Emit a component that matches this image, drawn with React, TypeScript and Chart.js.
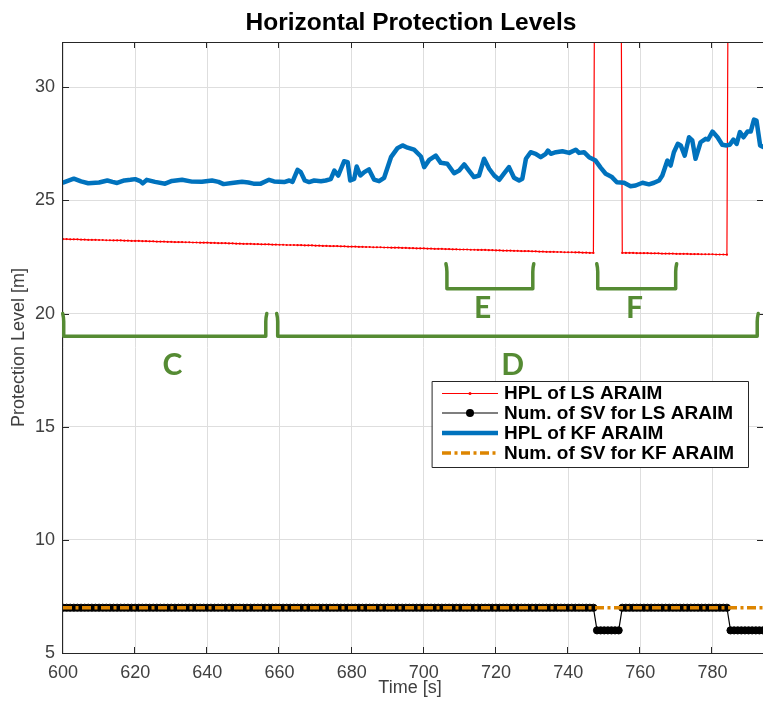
import React, { useEffect, useRef } from 'react';
import { Chart, registerables } from 'chart.js';

Chart.register(...registerables);

// ---- data ----
const T0 = 600; // first sample time [s], 1 s sampling for the LS series
const xTickValues = [600, 620, 640, 660, 680, 700, 720, 740, 760, 780];
const yTickValues = [5, 10, 15, 20, 25, 30];

// HPL of LS ARAIM (values above the axis top are off-scale spikes)
const hplLS: number[] = [
  23.29, 23.29, 23.28, 23.28, 23.28, 23.27, 23.27, 23.26, 23.26, 23.26, 23.25, 23.25,
  23.24, 23.24, 23.23, 23.23, 23.23, 23.22, 23.22, 23.21, 23.21, 23.21, 23.2, 23.2,
  23.19, 23.19, 23.18, 23.18, 23.18, 23.17, 23.17, 23.16, 23.16, 23.16, 23.15, 23.15,
  23.14, 23.14, 23.13, 23.13, 23.13, 23.12, 23.12, 23.11, 23.11, 23.11, 23.1, 23.1,
  23.09, 23.09, 23.08, 23.08, 23.08, 23.07, 23.07, 23.06, 23.06, 23.06, 23.05, 23.05,
  23.04, 23.04, 23.03, 23.03, 23.03, 23.02, 23.02, 23.01, 23.01, 23.01, 23.0, 23.0,
  22.99, 22.99, 22.98, 22.98, 22.98, 22.97, 22.97, 22.96, 22.96, 22.96, 22.95, 22.95,
  22.94, 22.94, 22.93, 22.93, 22.93, 22.92, 22.92, 22.91, 22.91, 22.91, 22.9, 22.9,
  22.89, 22.89, 22.88, 22.88, 22.88, 22.87, 22.87, 22.86, 22.86, 22.86, 22.85, 22.85,
  22.84, 22.84, 22.83, 22.83, 22.83, 22.82, 22.82, 22.81, 22.81, 22.81, 22.8, 22.8,
  22.79, 22.79, 22.78, 22.78, 22.78, 22.77, 22.77, 22.76, 22.76, 22.76, 22.75, 22.75,
  22.74, 22.74, 22.73, 22.73, 22.73, 22.72, 22.72, 22.71, 22.71, 22.71, 22.7, 22.7,
  22.69, 22.69, 22.68, 22.68,
  60, 60, 60, 60, 60, 60, 60,
  22.68, 22.68, 22.68, 22.68, 22.67, 22.67, 22.67, 22.67, 22.66, 22.66, 22.66,
  22.65, 22.65, 22.65, 22.65, 22.64, 22.64, 22.64, 22.64, 22.63, 22.63, 22.63,
  22.62, 22.62, 22.62, 22.62, 22.61, 22.61, 22.61, 22.6,
  60, 60, 60, 60, 60, 60, 60, 60, 60, 60,
];

// Number of SV for LS ARAIM
const svLS: number[] = [
  7, 7, 7, 7, 7, 7, 7, 7, 7, 7, 7, 7, 7, 7, 7, 7, 7, 7, 7, 7,
  7, 7, 7, 7, 7, 7, 7, 7, 7, 7, 7, 7, 7, 7, 7, 7, 7, 7, 7, 7,
  7, 7, 7, 7, 7, 7, 7, 7, 7, 7, 7, 7, 7, 7, 7, 7, 7, 7, 7, 7,
  7, 7, 7, 7, 7, 7, 7, 7, 7, 7, 7, 7, 7, 7, 7, 7, 7, 7, 7, 7,
  7, 7, 7, 7, 7, 7, 7, 7, 7, 7, 7, 7, 7, 7, 7, 7, 7, 7, 7, 7,
  7, 7, 7, 7, 7, 7, 7, 7, 7, 7, 7, 7, 7, 7, 7, 7, 7, 7, 7, 7,
  7, 7, 7, 7, 7, 7, 7, 7, 7, 7, 7, 7, 7, 7, 7, 7, 7, 7, 7, 7,
  7, 7, 7, 7, 7, 7, 7, 7,
  6, 6, 6, 6, 6, 6, 6,
  7, 7, 7, 7, 7, 7, 7, 7, 7, 7, 7, 7, 7, 7, 7, 7, 7, 7, 7, 7,
  7, 7, 7, 7, 7, 7, 7, 7, 7, 7,
  6, 6, 6, 6, 6, 6, 6, 6, 6, 6,
];

// HPL of KF ARAIM
const kfTimes: number[] = [
  600, 603, 605, 607, 610, 612.3, 613.7, 615, 617, 618.7, 620, 621.4, 622.1, 623.2, 625.5,
  628.3, 630.2, 633, 635.7, 638.5, 641.3, 643.1, 644.5, 646.8, 649.6, 651.4, 652.8, 654.8,
  657.1, 658.5, 661.3, 662.7, 663.6, 665, 665.9, 667, 668.2, 669.6, 671.5, 672.8, 674.2,
  675.2, 676.3, 677.9, 678.9, 679.6, 680.7, 681.4, 682.4, 683.5, 684.8, 686.2, 687.6, 689,
  690.9, 692.7, 694.1, 695.5, 697.3, 699.2, 700.1, 701.5, 703.3, 704.7, 706.5, 708.4, 709.8,
  711.2, 712.5, 713.9, 715.3, 716.7, 718.1, 719.5, 720.9, 722.2, 723.6, 725, 726.4, 727.3,
  728.3, 729.6, 731, 732.4, 733.8, 734.4, 735.2, 736.6, 738.4, 740.3, 742.1, 743, 744.4,
  745.8, 747.6, 749, 750.4, 752, 753.5, 755.5, 757.3, 758.7, 760.6, 762.4, 763.8, 765.2,
  766.1, 767.5, 768.4, 769.3, 770.4, 771.2, 772.3, 773.5, 774.4, 775.3, 776.7, 778.1, 778.8,
  780, 781.4, 782.7, 783.9, 784.8, 785.8, 786.7, 787.6, 788.6, 789.7, 790.6, 791.5, 792.2,
  793.2, 794.2,
];
const kfHpl: number[] = [
  25.79, 25.96, 25.84, 25.76, 25.79, 25.88, 25.82, 25.77, 25.88, 25.91, 25.94, 25.85, 25.75, 25.91, 25.82,
  25.74, 25.86, 25.91, 25.83, 25.82, 25.88, 25.82, 25.72, 25.77, 25.82, 25.79, 25.74, 25.74,
  25.91, 25.84, 25.81, 25.88, 25.82, 26.35, 26.25, 25.88, 25.81, 25.88, 25.85, 25.88, 25.94,
  26.32, 26.1, 26.73, 26.69, 25.88, 25.95, 26.5, 26.1, 26.25, 26.37, 25.92, 25.85, 26.0,
  26.91, 27.31, 27.43, 27.33, 27.24, 26.94, 26.47, 26.79, 26.98, 26.66, 26.62, 26.2, 26.32,
  26.59, 26.32, 26.03, 26.1, 26.84, 26.4, 26.1, 25.91, 26.18, 26.47, 26.0, 25.88, 25.96,
  26.84, 27.13, 27.06, 26.91, 27.06, 27.2, 27.06, 27.13, 27.17, 27.1, 27.24, 27.1, 27.13,
  26.91, 26.76, 26.45, 26.18, 26.05, 25.8, 25.78, 25.63, 25.66, 25.78, 25.71, 25.78, 25.88,
  26.1, 26.76, 26.54, 27.13, 27.5, 27.43, 26.98, 27.79, 27.65, 26.84, 27.57, 27.72, 27.69,
  28.04, 27.79, 27.46, 27.43, 27.46, 27.69, 27.5, 28.02, 27.79, 28.04, 28.04, 28.57, 28.53,
  27.43, 27.35,
];

// Number of SV for KF ARAIM
const svKFTimes: number[] = [600, 794];
const svKF: number[] = [7, 7];

// Annotation brackets (data units)
const bracketLabels = ['C', 'D', 'E', 'F'];
const bracketStart = [600.2, 659.5, 706.4, 748.2];
const bracketEnd = [656.2, 792.4, 730.2, 769.8];
const bracketTop = [20.0, 20.0, 22.2, 22.2];
const bracketBottom = [19.0, 19.0, 21.1, 21.1];
const bracketLabelX = [630.3, 724.6, 716.3, 758.4];
const bracketLabelY = [17.72, 17.72, 20.24, 20.24];

const legendLabels = ['HPL of LS ARAIM', 'Num. of SV for LS ARAIM', 'HPL of KF ARAIM', 'Num. of SV for KF ARAIM'];

const RED = '#FF0000';
const BLUE = '#0072BD';
const ORANGE = '#DD8500';
const GREEN = '#558B33';
const DASH = [9, 3.5, 3, 3.5];
const SANS = "'Liberation Sans', Arial, Helvetica, sans-serif";

const overlayPlugin = {
  id: 'overlay',
  afterDraw(chart: any) {
    const { ctx, chartArea: a, scales } = chart;
    const xs = scales.x;
    const ys = scales.y;
    ctx.save();

    // axes box
    ctx.strokeStyle = '#262626';
    ctx.lineWidth = 1;
    ctx.strokeRect(a.left - 0.5, a.top + 0.5, a.right - a.left + 1, a.bottom - a.top);

    // inward ticks
    ctx.beginPath();
    xs.ticks.forEach((t: any) => {
      const px = Math.round(xs.getPixelForValue(t.value)) - 0.5;
      ctx.moveTo(px, a.bottom);
      ctx.lineTo(px, a.bottom - 6);
      ctx.moveTo(px, a.top);
      ctx.lineTo(px, a.top + 6);
    });
    ys.ticks.forEach((t: any) => {
      const py = Math.round(ys.getPixelForValue(t.value)) + 0.5;
      ctx.moveTo(a.left, py);
      ctx.lineTo(a.left + 6, py);
      ctx.moveTo(a.right, py);
      ctx.lineTo(a.right - 6, py);
    });
    ctx.stroke();

    // title
    ctx.fillStyle = '#000';
    ctx.font = `bold 24.5px ${SANS}`;
    ctx.textAlign = 'center';
    ctx.textBaseline = 'alphabetic';
    ctx.fillText('Horizontal Protection Levels', 411, 30);

    // axis titles
    ctx.fillStyle = '#404040';
    ctx.font = `18px ${SANS}`;
    ctx.textBaseline = 'middle';
    ctx.fillText('Time [s]', 410, 688);
    ctx.save();
    ctx.translate(19, (a.top + a.bottom) / 2);
    ctx.rotate(-Math.PI / 2);
    ctx.fillText('Protection Level [m]', 0, 0);
    ctx.restore();

    // brackets
    ctx.strokeStyle = GREEN;
    ctx.lineWidth = 3.5;
    ctx.lineJoin = 'round';
    ctx.lineCap = 'round';
    for (let i = 0; i < bracketLabels.length; i++) {
      const x1 = xs.getPixelForValue(bracketStart[i]);
      const x2 = xs.getPixelForValue(bracketEnd[i]);
      const yt = ys.getPixelForValue(bracketTop[i]);
      const yb = ys.getPixelForValue(bracketBottom[i]);
      ctx.beginPath();
      ctx.moveTo(x1 - 1, yt);
      ctx.quadraticCurveTo(x1, yt + 4, x1, yt + 8);
      ctx.lineTo(x1, yb);
      ctx.lineTo(x2, yb);
      ctx.lineTo(x2, yt + 8);
      ctx.quadraticCurveTo(x2, yt + 4, x2 + 1, yt);
      ctx.stroke();
    }
    ctx.fillStyle = GREEN;
    ctx.font = `bold 30px Lato, 'Open Sans', sans-serif`;
    ctx.textAlign = 'center';
    ctx.textBaseline = 'middle';
    for (let i = 0; i < bracketLabels.length; i++) {
      ctx.fillText(bracketLabels[i], xs.getPixelForValue(bracketLabelX[i]), ys.getPixelForValue(bracketLabelY[i]));
    }

    // legend
    const lx = 432.5, ly = 381.5, lw = 316, lh = 86;
    ctx.fillStyle = '#fff';
    ctx.fillRect(lx, ly, lw, lh);
    ctx.strokeStyle = '#262626';
    ctx.lineWidth = 1;
    ctx.strokeRect(lx, ly, lw, lh);
    const sx1 = 442, sx2 = 498, tx = 504;
    const rowY = [393, 413, 433, 453];
    // red
    ctx.lineCap = 'butt';
    ctx.strokeStyle = RED;
    ctx.lineWidth = 1;
    ctx.beginPath(); ctx.moveTo(sx1, rowY[0] + 0.5); ctx.lineTo(sx2, rowY[0] + 0.5); ctx.stroke();
    ctx.fillStyle = RED;
    ctx.beginPath(); ctx.arc((sx1 + sx2) / 2, rowY[0] + 0.5, 1.5, 0, Math.PI * 2); ctx.fill();
    // black
    ctx.strokeStyle = '#000';
    ctx.lineWidth = 1.2;
    ctx.beginPath(); ctx.moveTo(sx1, rowY[1]); ctx.lineTo(sx2, rowY[1]); ctx.stroke();
    ctx.fillStyle = '#000';
    ctx.beginPath(); ctx.arc((sx1 + sx2) / 2, rowY[1], 4, 0, Math.PI * 2); ctx.fill();
    // blue
    ctx.strokeStyle = BLUE;
    ctx.lineWidth = 4.5;
    ctx.beginPath(); ctx.moveTo(sx1, rowY[2]); ctx.lineTo(sx2, rowY[2]); ctx.stroke();
    // orange
    ctx.strokeStyle = ORANGE;
    ctx.lineWidth = 3.5;
    ctx.setLineDash(DASH);
    ctx.beginPath(); ctx.moveTo(sx1, rowY[3]); ctx.lineTo(sx2, rowY[3]); ctx.stroke();
    ctx.setLineDash([]);
    ctx.fillStyle = '#000';
    ctx.font = `bold 19px ${SANS}`;
    ctx.textAlign = 'left';
    ctx.textBaseline = 'middle';
    legendLabels.forEach((s, i) => ctx.fillText(s, tx, rowY[i] + 1));

    ctx.restore();
  },
};

export default function App() {
  const ref = useRef<HTMLCanvasElement | null>(null);

  useEffect(() => {
    document.body.style.margin = '0';
    const canvas = ref.current;
    if (!canvas) return;
    const lsData = hplLS.map((v, i) => ({ x: T0 + i, y: v }));
    const svData = svLS.map((v, i) => ({ x: T0 + i, y: v }));
    const kfData = kfHpl.map((v, i) => ({ x: kfTimes[i], y: v }));
    const svKfData = svKF.map((v, i) => ({ x: svKFTimes[i], y: v }));

    const tickFont = { family: SANS, size: 18 };
    const chart = new Chart(canvas, {
      type: 'line',
      data: {
        datasets: [
          {
            label: legendLabels[0],
            data: lsData,
            borderColor: RED,
            borderWidth: 1.2,
            pointRadius: 1.1,
            pointBackgroundColor: RED,
            pointBorderWidth: 0,
            tension: 0,
            order: 3,
          },
          {
            label: legendLabels[1],
            data: svData,
            borderColor: '#000',
            borderWidth: 1.2,
            pointRadius: 3.6,
            pointBackgroundColor: '#000',
            pointBorderColor: '#000',
            pointBorderWidth: 1,
            tension: 0,
            order: 2,
          },
          {
            label: legendLabels[2],
            data: kfData,
            borderColor: BLUE,
            borderWidth: 4.5,
            pointRadius: 0,
            tension: 0,
            borderJoinStyle: 'round',
            borderCapStyle: 'round',
            order: 1,
          },
          {
            label: legendLabels[3],
            data: svKfData,
            borderColor: ORANGE,
            borderWidth: 3.5,
            borderDash: DASH,
            pointRadius: 0,
            tension: 0,
            order: 0,
          },
        ],
      } as any,
      options: {
        responsive: false,
        animation: false,
        events: [],
        layout: { autoPadding: false, padding: { top: 42, left: 0, right: 0, bottom: 0 } },
        plugins: {
          legend: { display: false },
          title: { display: false },
          tooltip: { enabled: false },
        },
        scales: {
          x: {
            type: 'linear',
            min: 600,
            max: 794,
            border: { display: false },
            grid: { color: '#dedede', lineWidth: 1, drawTicks: false },
            ticks: {
              stepSize: 20,
              padding: 9,
              color: '#404040',
              font: tickFont,
              maxRotation: 0,
              autoSkip: false,
            },
            afterBuildTicks: (axis: any) => {
              axis.ticks = xTickValues.map((v) => ({ value: v }));
            },
            afterFit: (axis: any) => {
              axis.height = 49;
              axis.paddingLeft = 0;
              axis.paddingRight = 0;
            },
          },
          y: {
            type: 'linear',
            min: 5,
            max: 32,
            border: { display: false },
            grid: { color: '#dedede', lineWidth: 1, drawTicks: false },
            ticks: {
              stepSize: 5,
              padding: 8,
              color: '#404040',
              font: tickFont,
              autoSkip: false,
            },
            afterBuildTicks: (axis: any) => {
              axis.ticks = yTickValues.map((v) => ({ value: v }));
            },
            afterFit: (axis: any) => {
              axis.width = 63;
              axis.paddingTop = 0;
              axis.paddingBottom = 0;
            },
          },
        },
      } as any,
      plugins: [overlayPlugin],
    });
    return () => chart.destroy();
  }, []);

  return (
    <div style={{ position: 'absolute', left: 0, top: 0, width: 763, height: 702, background: '#fff' }}>
      <canvas ref={ref} width={763} height={702} style={{ display: 'block', width: 763, height: 702 }} />
    </div>
  );
}
